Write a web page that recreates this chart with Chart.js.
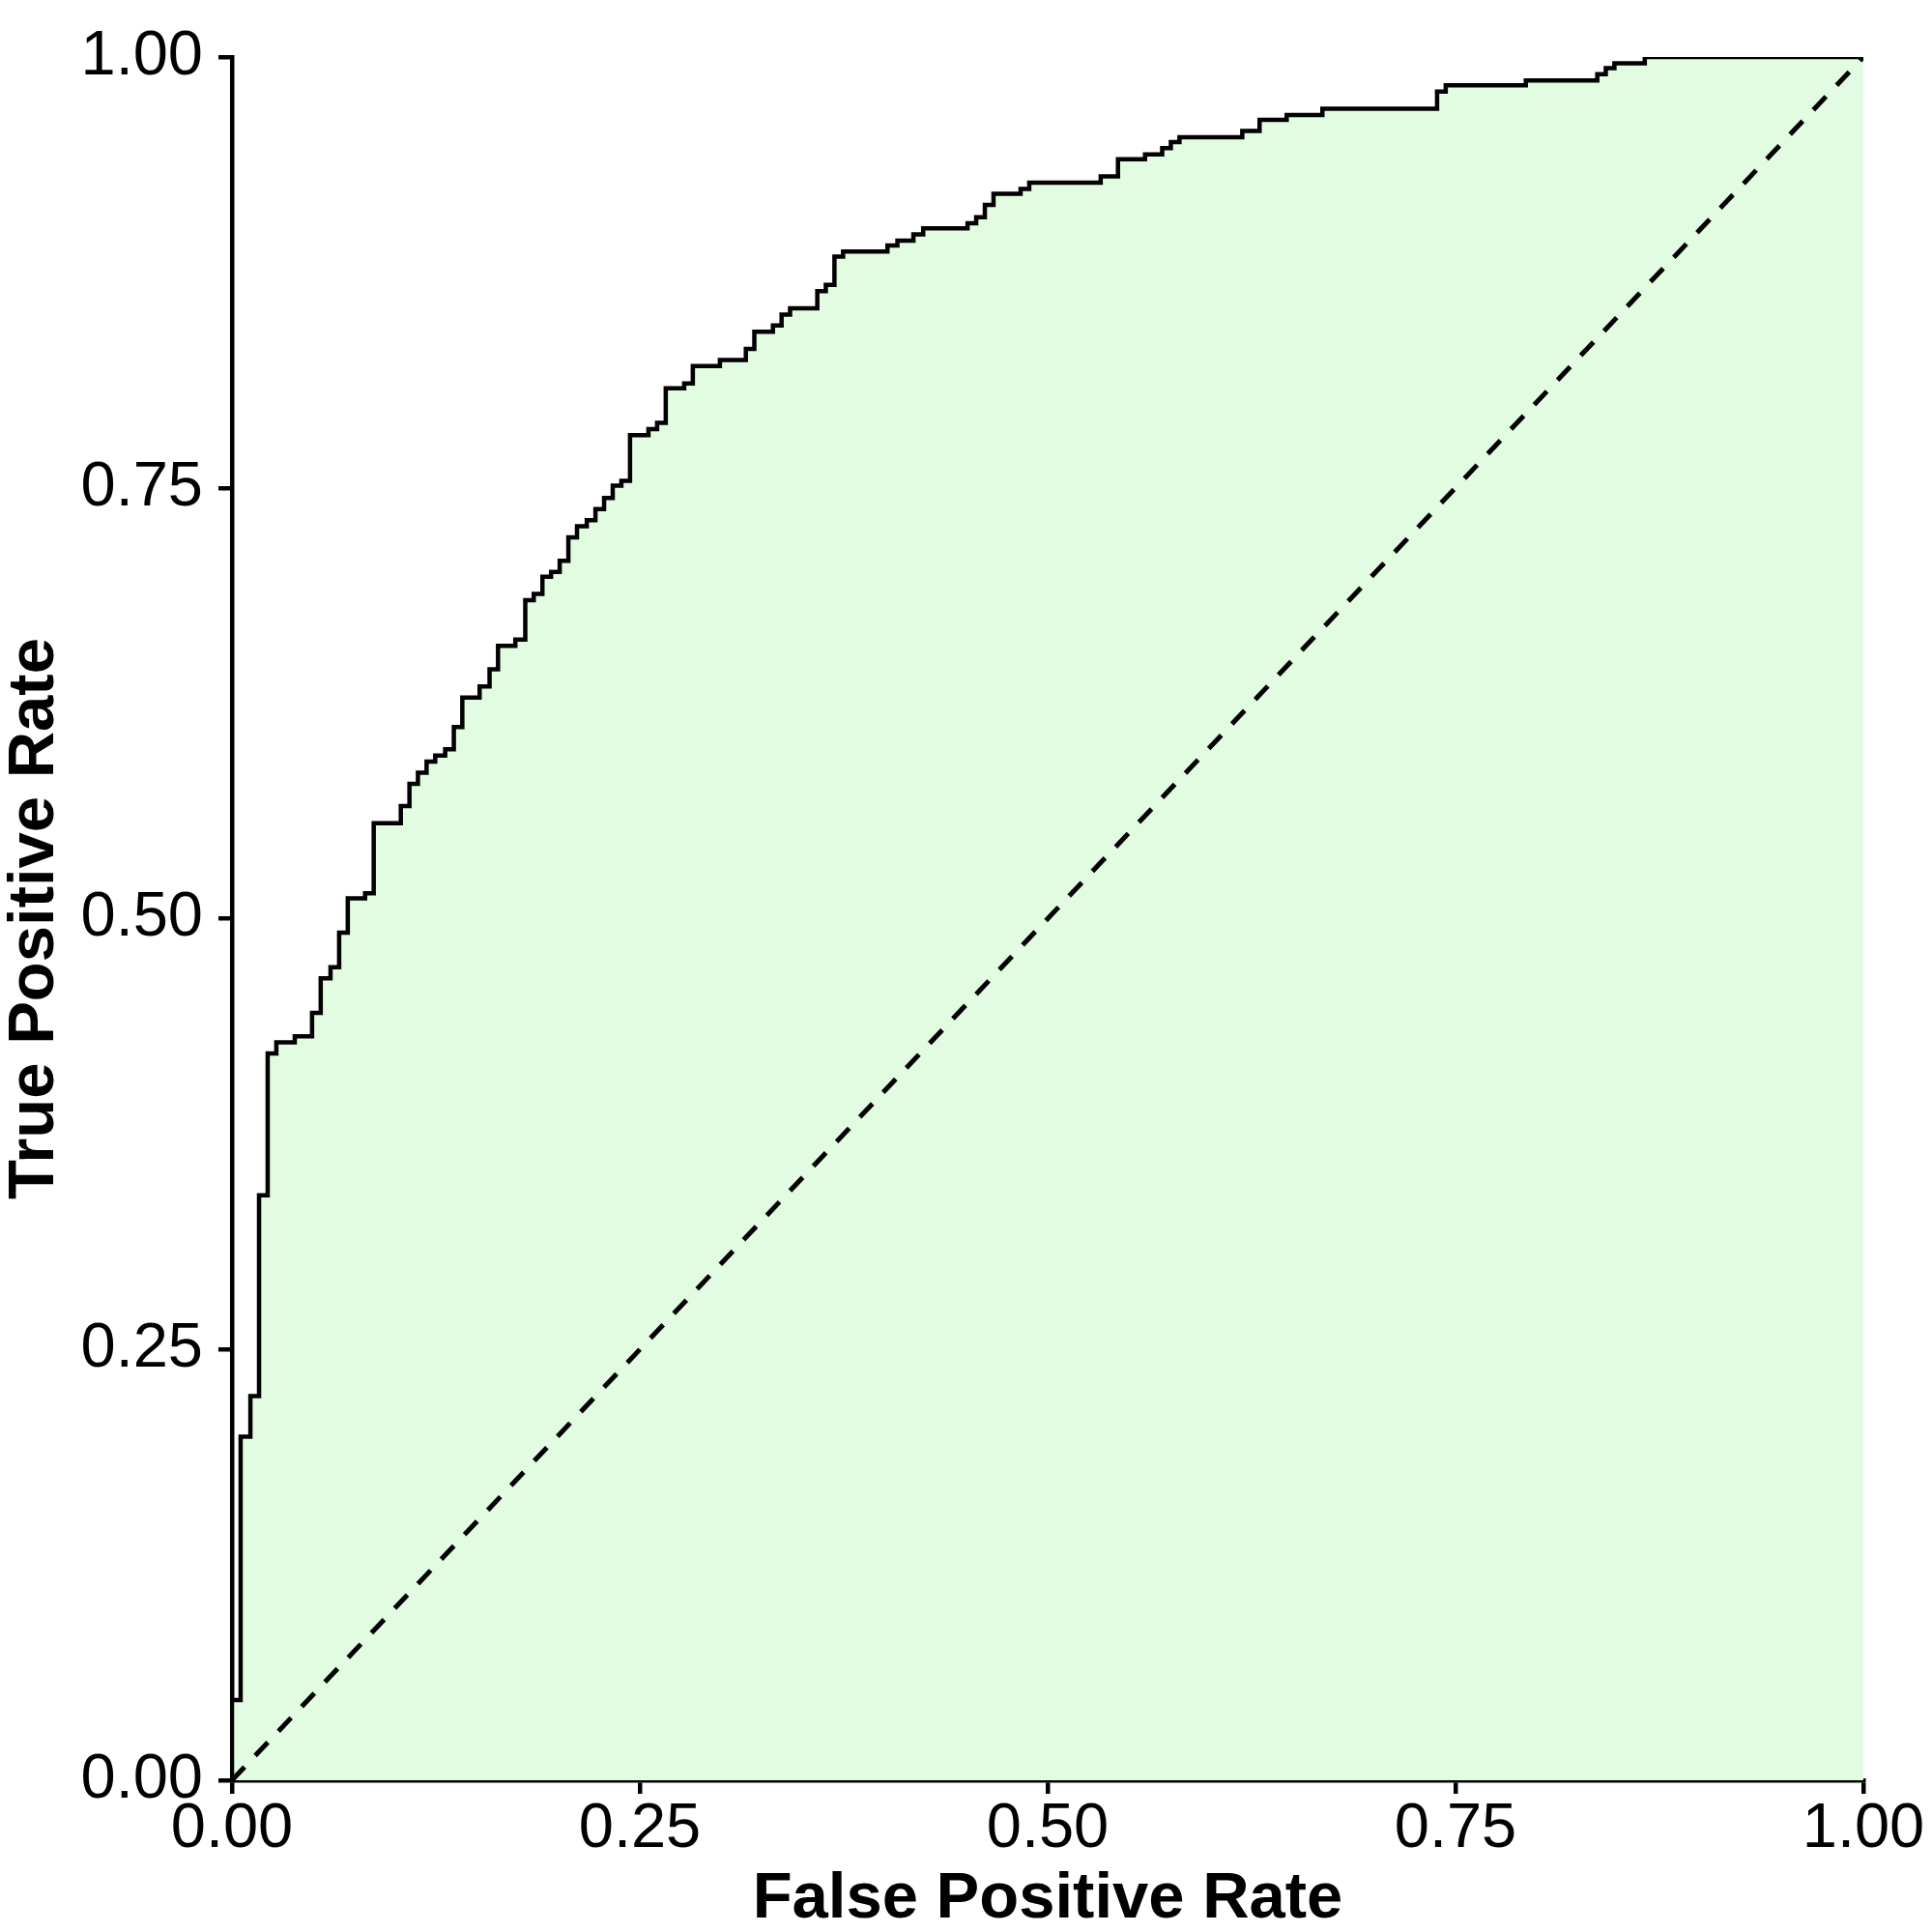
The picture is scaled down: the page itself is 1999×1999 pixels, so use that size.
<!DOCTYPE html>
<html>
<head>
<meta charset="utf-8">
<script src="https://cdn.jsdelivr.net/npm/chart.js@4.4.1/dist/chart.umd.min.js"></script>
<style>
  html, body { margin: 0; padding: 0; background: #ffffff; }
  #wrap { width: 1999px; height: 1999px; }
</style>
</head>
<body>
<div id="wrap"><canvas id="rocChart" width="1999" height="1999"></canvas></div>
<script>
// ROC curve: each point is where the curve steps up
const fpr = [0, 0, 0.0053, 0.0113, 0.0166, 0.0219, 0.0272, 0.0385, 0.0491, 0.0544,
    0.0604, 0.0657, 0.0710, 0.0816, 0.0869, 0.1035, 0.1088, 0.1140, 0.1193, 0.1246,
    0.1307, 0.1360, 0.1412, 0.1518, 0.1579, 0.1631, 0.1737, 0.1798, 0.1850, 0.1903,
    0.1956, 0.2009, 0.2062, 0.2115, 0.2175, 0.2228, 0.2281, 0.2334, 0.2387, 0.2440,
    0.2553, 0.2606, 0.2659, 0.2772, 0.2825, 0.2991, 0.3150, 0.3202, 0.3316, 0.3369,
    0.3421, 0.3588, 0.3640, 0.3693, 0.3746, 0.4018, 0.4079, 0.4177, 0.4237, 0.4509,
    0.4562, 0.4615, 0.4668, 0.4834, 0.4887, 0.5325, 0.5431, 0.5597, 0.5702, 0.5755,
    0.5808, 0.6193, 0.6299, 0.6465, 0.6684, 0.7387, 0.7440, 0.7931, 0.8369, 0.8421,
    0.8474, 0.8660, 1.0];
const tpr = [0, 0.0465, 0.1994, 0.2230, 0.3395, 0.4217, 0.4282, 0.4317, 0.4453, 0.4653,
    0.4718, 0.4918, 0.5118, 0.5147, 0.5554, 0.5654, 0.5783, 0.5847, 0.5911, 0.5947,
    0.5983, 0.6112, 0.6283, 0.6347, 0.6447, 0.6583, 0.6619, 0.6848, 0.6884, 0.6984,
    0.7012, 0.7077, 0.7212, 0.7277, 0.7312, 0.7377, 0.7441, 0.7513, 0.7541, 0.7806,
    0.7841, 0.7877, 0.8077, 0.8106, 0.8206, 0.8242, 0.8306, 0.8406, 0.8442, 0.8506,
    0.8542, 0.8642, 0.8678, 0.8842, 0.8871, 0.8906, 0.8935, 0.8971, 0.9006, 0.9035,
    0.9071, 0.9142, 0.9206, 0.9235, 0.9271, 0.9307, 0.9407, 0.9435, 0.9471, 0.9507,
    0.9535, 0.9571, 0.9636, 0.9664, 0.9700, 0.9800, 0.9836, 0.9864, 0.9900, 0.9936,
    0.9964, 1.0, 1.0];

const chanceX = [0, 1];
const chanceY = [0, 1];

const tickValues = [0, 0.25, 0.5, 0.75, 1];

const rocPoints = fpr.map((x, i) => ({ x: x, y: tpr[i] }));
const chancePoints = chanceX.map((x, i) => ({ x: x, y: chanceY[i] }));

const tickFont = { family: 'Liberation Sans', size: 65, lineHeight: 1 };
const titleFont = { family: 'Liberation Sans', size: 67, weight: 'bold', lineHeight: 1 };

const ctx = document.getElementById('rocChart').getContext('2d');

const rocChart = new Chart(ctx, {
    type: 'line',
    data: {
        datasets: [{
            label: 'ROC',
            data: rocPoints,
            stepped: 'before',
            borderColor: '#000000',
            borderWidth: 4.5,
            backgroundColor: '#e1fce1',
            fill: 'origin',
            pointRadius: 0,
            order: 2
        }, {
            label: 'Chance',
            data: chancePoints,
            borderColor: '#000000',
            borderWidth: 5,
            borderDash: [19, 16],
            fill: false,
            pointRadius: 0,
            order: 1
        }]
    },
    options: {
        responsive: false,
        animation: false,
        devicePixelRatio: 1,
        layout: {
            padding: { top: 59, right: 71, bottom: 0, left: 0 }
        },
        plugins: {
            legend: { display: false },
            tooltip: { enabled: false }
        },
        scales: {
            x: {
                type: 'linear',
                min: 0,
                max: 1,
                afterBuildTicks: (scale) => {
                    scale.ticks = tickValues.map(v => ({ value: v }));
                },
                afterFit: (scale) => { scale.height = 157; },
                ticks: {
                    color: '#000000',
                    font: tickFont,
                    padding: 5,
                    maxRotation: 0,
                    callback: (v) => Number(v).toFixed(2)
                },
                grid: {
                    drawOnChartArea: false,
                    drawTicks: true,
                    tickLength: 14,
                    color: '#000000',
                    lineWidth: 4.5
                },
                border: { display: true, color: '#000000', width: 4.5 },
                title: {
                    display: true,
                    text: 'False Positive Rate',
                    color: '#000000',
                    font: titleFont,
                    padding: { top: 0, bottom: 0 }
                }
            },
            y: {
                type: 'linear',
                min: 0,
                max: 1,
                afterBuildTicks: (scale) => {
                    scale.ticks = tickValues.map(v => ({ value: v }));
                },
                afterFit: (scale) => { scale.width = 240; },
                ticks: {
                    color: '#000000',
                    font: tickFont,
                    padding: 16,
                    callback: (v) => Number(v).toFixed(2)
                },
                grid: {
                    drawOnChartArea: false,
                    drawTicks: true,
                    tickLength: 14,
                    color: '#000000',
                    lineWidth: 4.5
                },
                border: { display: true, color: '#000000', width: 4.5 },
                title: {
                    display: true,
                    text: 'True Positive Rate',
                    color: '#000000',
                    font: titleFont,
                    padding: { top: 3, bottom: 0 }
                }
            }
        }
    }
});
</script>
</body>
</html>
